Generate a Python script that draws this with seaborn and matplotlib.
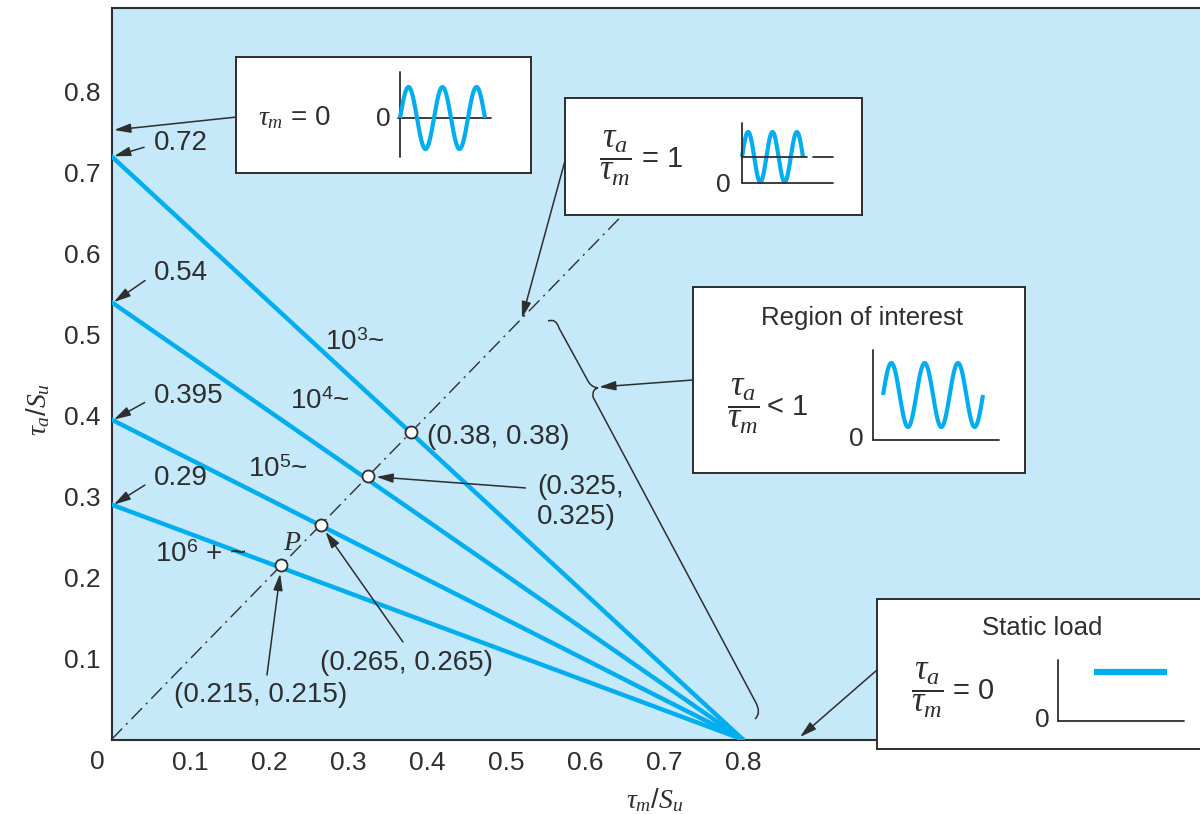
import numpy as np
import pandas as pd
import seaborn as sns
import matplotlib
matplotlib.use("Agg")
import matplotlib.pyplot as plt
from matplotlib.path import Path
from matplotlib.patches import PathPatch
from matplotlib.transforms import Affine2D

# ---- data -----------------------------------------------------------------
life_labels = ['10$^3$~', '10$^4$~', '10$^5$~', '10$^6$ + ~']
alt_intercepts = [0.72, 0.54, 0.395, 0.29]      # tau_a/Su at tau_m = 0
mean_intercept = 0.8                              # tau_m/Su where tau_a = 0
ratio_one_points = [0.38, 0.325, 0.265, 0.215]   # tau_a = tau_m on each life line
intercept_labels = ['0.72', '0.54', '0.395', '0.29']
point_labels = ['(0.38, 0.38)', '(0.325,\n0.325)', '(0.265, 0.265)', '(0.215, 0.215)']
ratio_line_end = 0.66
tick_values = [0.1, 0.2, 0.3, 0.4, 0.5, 0.6, 0.7, 0.8]
tick_labels = ['0.1', '0.2', '0.3', '0.4', '0.5', '0.6', '0.7', '0.8']

# ---- style ----------------------------------------------------------------
BG = '#c6e9fa'
BLUE = '#00aeef'
INK = '#2e2e2e'

sns.set_style('white')
plt.rcParams.update({
    'mathtext.fontset': 'custom',
    'mathtext.rm': 'Liberation Sans',
    'mathtext.sf': 'Liberation Sans',
    'mathtext.it': 'Liberation Serif:italic',
    'mathtext.bf': 'Liberation Sans:bold',
    'text.color': INK,
})
plt.rcParams['font.family'] = ['Liberation Sans', 'DejaVu Sans']

W, H = 1200, 814
fig = plt.figure(figsize=(W / 100, H / 100), dpi=100)
fig.patch.set_facecolor('white')
# transform for positions given in pixels from the top-left corner
PIX = Affine2D().scale(1, -1).translate(0, H)

X0, Y0, YT = 111.5, 739.5, 8.0
PX_X, PX_Y = 789.3, 810.0
ax = fig.add_axes([X0 / W, (H - Y0) / H, (W - X0) / W, (Y0 - YT) / H])
ax.set_xlim(0, (W - X0) / PX_X)
ax.set_ylim(0, (Y0 - YT) / PX_Y)
ax.set_facecolor(BG)

# ---- life lines -------------------------------------------------------------
rows = []
for lab, a in zip(life_labels, alt_intercepts):
    rows.append(dict(life=lab, tm=0.0, ta=a))
    rows.append(dict(life=lab, tm=mean_intercept, ta=0.0))
df = pd.DataFrame(rows)
sns.lineplot(data=df, x='tm', y='ta', hue='life', palette=[BLUE] * 4,
             linewidth=3.2, legend=False, sort=False, estimator=None, ax=ax,
             zorder=3)

# tau_a / tau_m = 1 load line
ax.plot([0, ratio_line_end], [0, ratio_line_end], color=INK, lw=1.0,
        dashes=(11, 4, 1.5, 4), zorder=4)
sns.scatterplot(x=ratio_one_points, y=ratio_one_points, s=75, color='white',
                edgecolor=INK, linewidth=1.3, zorder=6, ax=ax, clip_on=False)

# ---- axes -------------------------------------------------------------------
ax.set_xticks(tick_values)
ax.set_xticklabels(tick_labels)
ax.set_yticks(tick_values)
ax.set_yticklabels(tick_labels)
ax.tick_params(direction='in', length=16, width=1.2, color=INK, labelsize=19,
               labelcolor=INK, pad=8)
for side in ['left', 'bottom', 'top']:
    ax.spines[side].set_color(INK)
    ax.spines[side].set_linewidth(1.5)
ax.spines['right'].set_visible(False)
ax.set_xlabel('')
ax.set_ylabel('')
ax.text(97, 762, '0', transform=PIX, ha='center', va='center', fontsize=19)
ax.text(655, 800, r'$\tau_m/S_u$', transform=PIX, ha='center', va='center',
        fontsize=20)
ax.text(38, 410, r'$\tau_a/S_u$', transform=PIX, ha='center', va='center',
        fontsize=20, rotation=90)


def arrow(**kw):
    d = dict(arrowstyle='-|>,head_length=1.0,head_width=0.28', mutation_scale=10,
             color=INK, lw=1.1, shrinkA=2, shrinkB=0)
    d.update(kw)
    return d


# intercept labels on the tau_a axis
for lbl, a, py in zip(intercept_labels, alt_intercepts, [143, 273, 396, 478]):
    ax.annotate(lbl, xy=(0.003, a), xytext=(154, py), textcoords=PIX,
                ha='left', va='center', fontsize=20,
                arrowprops=arrow(relpos=(0, 0.45), shrinkA=5),
                annotation_clip=False)

# life labels
for lbl, (px, py) in zip(life_labels, [(325, 343), (290, 402), (248, 470), (155, 555)]):
    ax.text(px, py, lbl, transform=PIX, ha='left', va='center', fontsize=20)

# labels of the tau_a = tau_m points
ax.text(427, 437, point_labels[0], transform=PIX, ha='left', va='center', fontsize=20)
ax.annotate(point_labels[1], xy=(ratio_one_points[1], ratio_one_points[1]),
            xytext=(537, 502), textcoords=PIX, ha='left', va='center',
            fontsize=20, linespacing=1.15,
            arrowprops=arrow(relpos=(0, 0.74), shrinkA=6, shrinkB=6))
ax.text(406, 663, point_labels[2], transform=PIX, ha='center', va='center', fontsize=20)
ax.annotate('', xy=(ratio_one_points[2], ratio_one_points[2]), xytext=(403, 642),
            textcoords=PIX, arrowprops=arrow(shrinkA=0, shrinkB=6))
ax.text(261, 695, point_labels[3], transform=PIX, ha='center', va='center', fontsize=20)
ax.annotate('', xy=(ratio_one_points[3], ratio_one_points[3]), xytext=(267, 675),
            textcoords=PIX, arrowprops=arrow(shrinkA=0, shrinkB=6))
ax.text(292, 543, '$P$', transform=PIX, ha='center', va='center', fontsize=20)

# brace marking the region of interest
brace = Path(
    [(548, 321), (556, 318), (559, 328), (588, 381), (591, 387), (598, 388),
     (592, 389), (593, 397), (755, 701), (762, 713), (755, 719)],
    [Path.MOVETO, Path.CURVE3, Path.CURVE3, Path.LINETO, Path.CURVE3, Path.CURVE3,
     Path.CURVE3, Path.CURVE3, Path.LINETO, Path.CURVE3, Path.CURVE3])
ax.add_patch(PathPatch(brace, transform=PIX, fill=False, edgecolor=INK, lw=1.1,
                       clip_on=False, zorder=4))

# pointers from the boxes
ax.annotate('', xy=(114, 130), xycoords=PIX, xytext=(237, 117), textcoords=PIX,
            arrowprops=arrow(shrinkA=0))
ax.annotate('', xy=(0.52, 0.52), xytext=(566, 157), textcoords=PIX,
            arrowprops=arrow(shrinkA=0))
ax.annotate('', xy=(599, 387), xycoords=PIX, xytext=(693, 380), textcoords=PIX,
            arrowprops=arrow(shrinkA=0))
ax.annotate('', xy=(800, 737), xycoords=PIX, xytext=(877, 670), textcoords=PIX,
            arrowprops=arrow(shrinkA=0), annotation_clip=False)


# ---- inset boxes with the load waveforms ------------------------------------
def make_box(l, t, r, b):
    bx = fig.add_axes([l / W, 1 - b / H, (r - l) / W, (b - t) / H])
    bx.set_xlim(l, r)
    bx.set_ylim(b, t)
    bx.set_xticks([])
    bx.set_yticks([])
    bx.set_facecolor('white')
    for s in bx.spines.values():
        s.set_color(INK)
        s.set_linewidth(1.4)
    return bx


def sine(bx, x0, x1, yc, amp, periods):
    t = np.linspace(0, periods * 2 * np.pi, 300)
    bx.plot(x0 + (x1 - x0) * t / t[-1], yc - amp * np.sin(t), color=BLUE, lw=3.0,
            solid_capstyle='butt')


def ratio_text(bx, xc, yc, rel, xr):
    bx.text(xc, yc, r'$\dfrac{\tau_a}{\tau_m}$', ha='center', va='center', fontsize=25)
    bx.text(xr, yc + 1, rel, ha='left', va='center', fontsize=21)


# tau_m = 0 (fully reversed)
b1 = make_box(236, 57, 531, 173)
b1.text(258, 118, r'$\tau_m$ = 0', ha='left', va='center', fontsize=20)
b1.text(383, 119, '0', ha='center', va='center', fontsize=19)
b1.plot([400, 400], [72, 157], color=INK, lw=1.3)
b1.plot([398, 491], [118, 118], color=INK, lw=1.3)
sine(b1, 400, 485, 118, 31, 2.5)

# tau_a / tau_m = 1
b2 = make_box(565, 98, 862, 215)
ratio_text(b2, 615, 158, '= 1', 642)
b2.text(723, 185, '0', ha='center', va='center', fontsize=19)
sine(b2, 742, 803, 157, 25, 2.5)
b2.plot([742, 742], [123, 183], color=INK, lw=1.3)
b2.plot([742, 833], [183, 183], color=INK, lw=1.3)
b2.plot([742, 807], [157, 157], color=INK, lw=1.3)
b2.plot([813, 833], [157, 157], color=INK, lw=1.3)

# region of interest
b3 = make_box(693, 287, 1025, 473)
b3.text(862, 318, 'Region of interest', ha='center', va='center', fontsize=18.5)
ratio_text(b3, 743, 406, '< 1', 767)
b3.text(856, 439, '0', ha='center', va='center', fontsize=19)
b3.plot([873, 873], [350, 440], color=INK, lw=1.3)
b3.plot([873, 999], [440, 440], color=INK, lw=1.3)
sine(b3, 883, 983, 395, 32, 3)

# static load
b4 = make_box(877, 599, 1215, 749)
b4.text(1042, 628, 'Static load', ha='center', va='center', fontsize=18.5)
ratio_text(b4, 927, 690, '= 0', 953)
b4.text(1042, 720, '0', ha='center', va='center', fontsize=19)
b4.plot([1058, 1058], [660, 721], color=INK, lw=1.3)
b4.plot([1058, 1184], [721, 721], color=INK, lw=1.3)
b4.plot([1094, 1167], [672, 672], color=BLUE, lw=4.5, solid_capstyle='butt')

fig.savefig('out.png', dpi=100, facecolor='white')
